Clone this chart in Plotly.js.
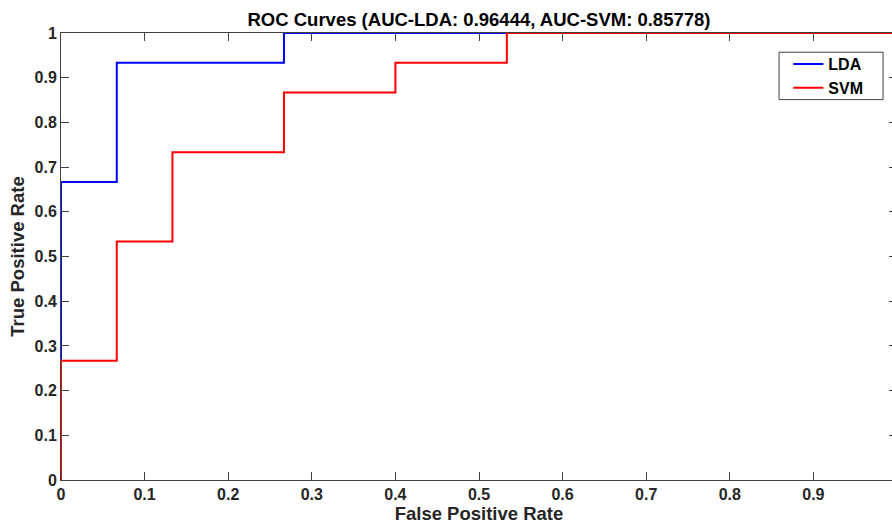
<!DOCTYPE html>
<html><head><meta charset="utf-8">
<script src="https://cdn.plot.ly/plotly-3.0.1.min.js"></script>
<style>html,body{margin:0;padding:0;overflow:hidden;background:#fff}#chart{width:898px;height:527px}</style>
</head><body><div id="chart"></div>
<script>
// ROC data (step corners)
const ldaFPR = [0, 0, 0.0667, 0.2667, 1];
const ldaTPR = [0, 0.6667, 0.9333, 1, 1];
const svmFPR = [0, 0, 0.0667, 0.1333, 0.2667, 0.4, 0.5333, 1];
const svmTPR = [0, 0.2667, 0.5333, 0.7333, 0.8667, 0.9333, 1, 1];
const xTicks = [0, 0.1, 0.2, 0.3, 0.4, 0.5, 0.6, 0.7, 0.8, 0.9, 1];
const xTickText = ['0', '0.1', '0.2', '0.3', '0.4', '0.5', '0.6', '0.7', '0.8', '0.9', '1'];
const yTicks = [0, 0.1, 0.2, 0.3, 0.4, 0.5, 0.6, 0.7, 0.8, 0.9, 1];
const yTickText = ['0', '0.1', '0.2', '0.3', '0.4', '0.5', '0.6', '0.7', '0.8', '0.9', '1'];
const titleText = 'ROC Curves (AUC-LDA: 0.96444, AUC-SVM: 0.85778)';

const font = 'Liberation Sans, Arial, sans-serif';
const dark = '#262626';
const traces = [
  {x: ldaFPR, y: ldaTPR, name: 'LDA', mode: 'lines', line: {color: '#0000ff', width: 2, shape: 'hv'}},
  {x: svmFPR, y: svmTPR, name: 'SVM', mode: 'lines', line: {color: '#ff0000', width: 2, shape: 'hv'}}
];
const axisCommon = {
  showgrid: false, zeroline: false, showline: true, linecolor: '#404040', linewidth: 1,
  mirror: 'ticks', ticks: 'inside', ticklen: 8, tickcolor: '#404040', tickwidth: 1,
  tickfont: {family: font, size: 16, color: dark, weight: 'bold'}
};
const layout = {
  width: 898, height: 527,
  margin: {l: 61, r: 1, t: 33, b: 47},
  paper_bgcolor: '#fff', plot_bgcolor: '#fff',
  title: {text: '<b>' + titleText + '</b>', xref: 'paper', x: 0.5, xanchor: 'center', yref: 'container', y: 0.963, yanchor: 'middle',
          font: {family: font, size: 18.5, color: '#000'}},
  xaxis: Object.assign({}, axisCommon, {range: [0, 1], tickvals: xTicks, ticktext: xTickText,
          title: {text: '<b>False Positive Rate</b>', standoff: 3, font: {family: font, size: 18.5, color: dark}}}),
  yaxis: Object.assign({}, axisCommon, {range: [0, 1], tickvals: yTicks, ticktext: yTickText,
          title: {text: '<b>True Positive Rate</b>', standoff: 5, font: {family: font, size: 18.5, color: dark}}}),
  showlegend: true,
  legend: {x: 0.870, y: 0.9037, xanchor: 'left', yanchor: 'middle', bgcolor: 'rgba(0,0,0,0)',
           borderwidth: 0, font: {family: font, size: 16, color: '#000', weight: 'bold'},
           itemwidth: 30, tracegroupgap: 0},
  shapes: [{type: 'rect', xref: 'paper', yref: 'paper', x0: 0.8589, x1: 0.9833, y0: 0.851, y1: 0.957,
            line: {color: '#404040', width: 1}, fillcolor: '#fff', layer: 'above'}]
};
Plotly.newPlot('chart', traces, layout, {displayModeBar: false, staticPlot: true});
</script></body></html>
